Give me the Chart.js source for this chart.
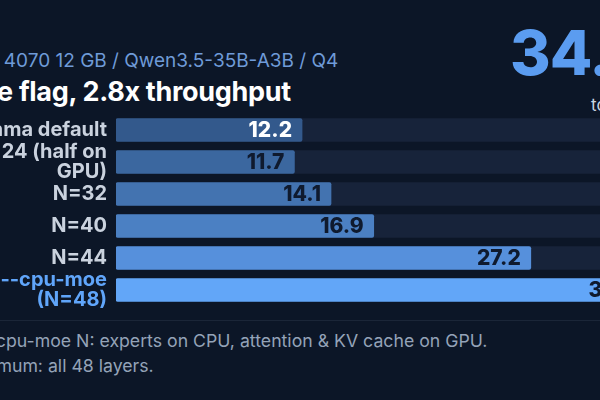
<!DOCTYPE html>
<html>
<head>
<meta charset="utf-8">
<script src="https://cdn.jsdelivr.net/npm/chart.js@4/dist/chart.umd.min.js"></script>
<style>
  html, body { margin: 0; padding: 0; }
  body { width: 600px; height: 400px; overflow: hidden; position: relative; background: #0c1627; font-family: Inter, "Noto Sans", sans-serif; }
  .t { position: absolute; white-space: nowrap; line-height: 1; }
  #sub { left: -39px; top: 51px; font-size: 19px; color: #6f9bd8; }
  #title { left: -40px; top: 78px; font-size: 27px; font-weight: 700; color: #ffffff; letter-spacing: -0.3px; }
  #big { left: 510px; top: 22px; font-size: 62px; font-weight: 800; color: #5b9cf0; letter-spacing: -1px; }
  #unit { left: 591px; top: 97px; font-size: 17px; color: #cbd5e1; }
  #rule { position: absolute; left: 0; top: 320px; width: 600px; height: 1px; background: #1b2638; }
  #foot1 { left: -39px; top: 332px; font-size: 17.7px; color: #94a3b8; }
  #foot2 { left: -38px; top: 357px; font-size: 17.7px; color: #94a3b8; }
  #wrap { position: absolute; left: 0; top: 104px; width: 680px; height: 212px; }
</style>
</head>
<body>
<div class="t" id="sub">RTX 4070 12 GB / Qwen3.5-35B-A3B / Q4</div>
<div class="t" id="title">One flag, 2.8x throughput</div>
<div class="t" id="big">34.7</div>
<div class="t" id="unit">tok/s</div>
<div id="wrap"><canvas id="chart" width="680" height="212"></canvas></div>
<div id="rule"></div>
<div class="t" id="foot1">--n-cpu-moe N: experts on CPU, attention &amp; KV cache on GPU.</div>
<div class="t" id="foot2">Optimum: all 48 layers.</div>
<script>
// data
const labels = [
    "Ollama default",
    ["N=24 (half on", "GPU)"],
    "N=32",
    "N=40",
    "N=44",
    ["--cpu-moe", "(N=48)"]
];
const tokPerSec = [12.2, 11.7, 14.1, 16.9, 27.2, 34.7];
const xMax = 36;

// styles
const barColors = ["#33598c", "#3b679f", "#4373b0", "#4b80c3", "#5690dc", "#62a6f8"];
const valueColors = ["#ffffff", "#0f1a2e", "#0f1a2e", "#0f1a2e", "#0f1a2e", "#0f1a2e"];
const tickColors = ["#cad2de", "#cad2de", "#cad2de", "#cad2de", "#cad2de", "#60a5fa"];

const valueLabels = {
    id: 'valueLabels',
    afterDatasetsDraw(chart) {
        const ctx = chart.ctx;
        const meta = chart.getDatasetMeta(0);
        ctx.save();
        ctx.font = "800 21px Inter";
        ctx.textAlign = "right";
        ctx.textBaseline = "middle";
        meta.data.forEach((bar, i) => {
            ctx.fillStyle = valueColors[i];
            ctx.fillText(tokPerSec[i].toFixed(1), bar.x - 10, bar.y + 1);
        });
        ctx.restore();
    }
};

const ctx = document.getElementById("chart").getContext('2d');

const myChart = new Chart(ctx, {
    type: "bar",
    data: {
        labels: labels,
        datasets: [
            {
                label: "tok/s",
                data: tokPerSec,
                backgroundColor: barColors,
                barThickness: 23,
                borderRadius: 2,
                borderSkipped: false,
                grouped: false,
                order: 0
            },
            {
                label: "track",
                data: labels.map(() => xMax),
                backgroundColor: "#17233a",
                barThickness: 23,
                borderRadius: 2,
                borderSkipped: false,
                grouped: false,
                order: 1
            }
        ]
    },
    options: {
        indexAxis: 'y',
        responsive: false,
        devicePixelRatio: 1,
        animation: false,
        layout: { padding: { top: 10, bottom: 10, right: 15, left: 0 } },
        scales: {
            x: { display: false, min: 0, max: xMax },
            y: {
                grid: { display: false, drawTicks: false },
                border: { display: false },
                ticks: {
                    autoSkip: false,
                    color: tickColors,
                    padding: 9,
                    font: { family: "Inter", size: 20, weight: "700", lineHeight: 1.0 }
                },
                afterFit(scale) {
                    scale.width = 116;
                    scale.paddingTop = 0;
                    scale.paddingBottom = 0;
                }
            }
        },
        plugins: {
            legend: { display: false },
            tooltip: { enabled: false }
        }
    },
    plugins: [valueLabels]
});
</script>
</body>
</html>
